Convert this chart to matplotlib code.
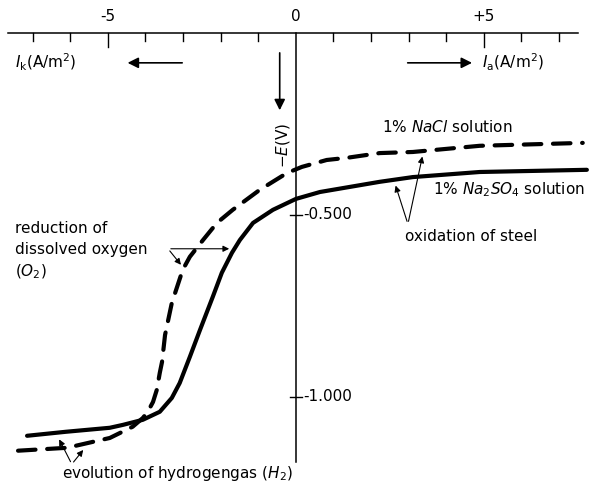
import numpy as np
import matplotlib
matplotlib.use("Agg")
import matplotlib.pyplot as plt

plt.rcParams['font.family'] = ['DejaVu Sans']
plt.rcParams['mathtext.fontset'] = 'dejavusans'

# current density I (A/m2) and potential -E (V)
i_na2so4 = [-7.15, -6.12, -4.95, -4.60, -4.07, -3.62, -3.30, -3.09, -2.82, -2.55,
            -2.21, -1.97, -1.70, -1.49, -1.14, -0.61, 0.0, 0.64, 2.23, 3.11,
            4.89, 7.74]
e_na2so4 = [1.107, 1.096, 1.085, 1.077, 1.063, 1.041, 1.003, 0.962, 0.890, 0.816,
            0.725, 0.659, 0.604, 0.569, 0.522, 0.486, 0.456, 0.437, 0.409, 0.396,
            0.382, 0.376]

i_nacl = [-7.39, -6.09, -4.95, -4.34, -4.07, -3.94, -3.80, -3.70, -3.62, -3.56,
          -3.48, -3.30, -3.16, -3.01, -2.82, -2.47, -2.10, -1.68, -0.96, -0.24,
          0.16, 0.82, 1.36, 2.23, 3.11, 4.89, 7.63]
e_nacl = [1.148, 1.140, 1.113, 1.082, 1.058, 1.041, 1.014, 0.981, 0.934, 0.904,
          0.830, 0.742, 0.698, 0.651, 0.615, 0.569, 0.522, 0.486, 0.431, 0.385,
          0.368, 0.349, 0.343, 0.330, 0.327, 0.310, 0.302]

x_ticks = list(range(-7, 8))
x_labels = {-5: '-5', 0: '0', 5: '+5'}
y_ticks = [0.5, 1.0]
y_labels = ['-0.500', '-1.000']

fig = plt.figure(figsize=(5.91, 4.86), dpi=100)
ax = fig.add_axes([0, 0, 1, 1])
ax.set_xlim(-7.87, 7.85)
ax.set_ylim(1.245, -0.0907)
ax.axis('off')

k = 'black'
# axes
ax.plot([-7.66, 7.5], [0, 0], color=k, lw=1.1)
ax.plot([0, 0], [0, 1.18], color=k, lw=1.1)
for t in x_ticks:
    if t == 0:
        continue
    ln = 0.038 if abs(t) == 5 else 0.022
    ax.plot([t, t], [0, ln], color=k, lw=1.0)
for t in x_labels:
    ax.text(t, -0.045, x_labels[t], ha='center', va='center', fontsize=11)
for t, lab in zip(y_ticks, y_labels):
    ax.plot([-0.16, 0.16], [t, t], color=k, lw=1.0)
    ax.text(0.2, t, lab, ha='left', va='center', fontsize=11)

# curves
ax.plot(i_na2so4, e_na2so4, color=k, lw=3, solid_capstyle='round',
        solid_joinstyle='round')
ax.plot(i_nacl, e_nacl, color=k, lw=3, linestyle=(0, (4.2, 2.8)),
        dash_capstyle='round', dash_joinstyle='round')

arr = dict(arrowstyle='-|>', color=k, lw=0.8, mutation_scale=9)
big = dict(arrowstyle='-|>', color=k, lw=1.2, mutation_scale=16)

# axis titles
ax.text(-7.47, 0.082, r'$I_{\mathrm{k}}$(A/m$^2$)', ha='left', va='center', fontsize=11)
ax.annotate('', xy=(-4.55, 0.082), xytext=(-2.95, 0.082), arrowprops=big)
ax.text(4.95, 0.082, r'$I_{\mathrm{a}}$(A/m$^2$)', ha='left', va='center', fontsize=11)
ax.annotate('', xy=(4.76, 0.082), xytext=(2.90, 0.082), arrowprops=big)
ax.annotate('', xy=(-0.43, 0.22), xytext=(-0.43, 0.047), arrowprops=big)
ax.text(-0.33, 0.308, r'$-E$(V)', rotation=90, ha='center', va='center', fontsize=11)

# labels
ax.text(2.29, 0.258, r'1% $NaCl$ solution', ha='left', va='center', fontsize=11)
ax.text(3.64, 0.431, r'1% $Na_2SO_4$ solution', ha='left', va='center', fontsize=11)
ax.text(2.90, 0.56, 'oxidation of steel', ha='left', va='center', fontsize=11)
ax.annotate('', xy=(2.63, 0.412), xytext=(2.98, 0.525), arrowprops=arr)
ax.annotate('', xy=(3.38, 0.332), xytext=(2.98, 0.525), arrowprops=arr)

ax.text(-7.47, 0.538, 'reduction of', ha='left', va='center', fontsize=11)
ax.text(-7.47, 0.596, 'dissolved oxygen', ha='left', va='center', fontsize=11)
ax.text(-7.47, 0.657, r'($O_2$)', ha='left', va='center', fontsize=11)
ax.annotate('', xy=(-1.70, 0.593), xytext=(-3.40, 0.593), arrowprops=arr)
ax.annotate('', xy=(-3.01, 0.643), xytext=(-3.40, 0.593), arrowprops=arr)

ax.text(-6.22, 1.21, r'evolution of hydrogengas ($H_2$)', ha='left', va='center', fontsize=11)
ax.annotate('', xy=(-6.33, 1.110), xytext=(-5.96, 1.185), arrowprops=arr)
ax.annotate('', xy=(-5.61, 1.140), xytext=(-5.96, 1.185), arrowprops=arr)

fig.savefig('out.png', dpi=100)
